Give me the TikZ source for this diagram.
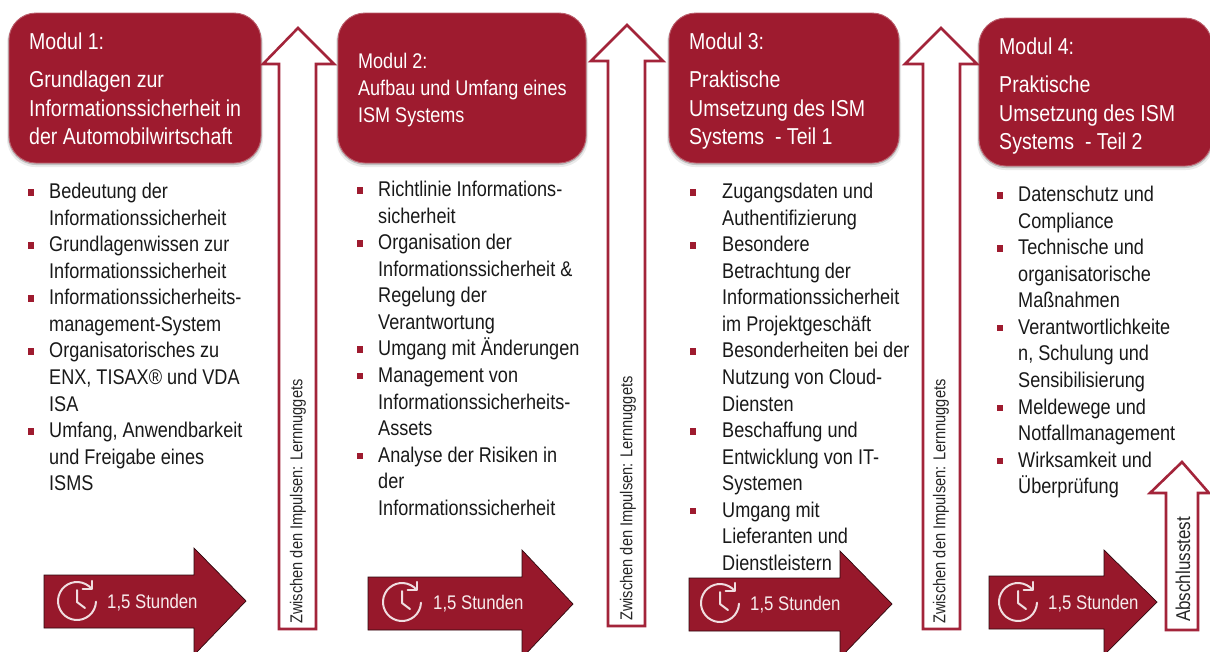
\documentclass[tikz,border=0pt]{standalone}
\usepackage{fontspec}
\setmainfont{Liberation Sans}[FakeStretch=0.85]
\usetikzlibrary{calc}
\definecolor{mred}{HTML}{9E1B2F}
\definecolor{mdark}{HTML}{97182B}
\definecolor{mline}{HTML}{A3243A}
\newcommand{\bulmark}{\textcolor{mred}{\rule[3pt]{6.5pt}{6.5pt}}}
\newcommand{\bul}{\leavevmode\llap{\bulmark\hspace{15pt}}}
\newcommand{\bulw}{\leavevmode\llap{\bulmark\hspace{26pt}}}
\tikzset{
  modbox/.style={fill=mred,draw=mred!70!white,line width=0.9pt,rounded corners=27pt},
  modshadow/.style={fill=black,rounded corners=28pt},
  modtext/.style={anchor=north west,inner sep=0pt,align=left,text=white,font=\fontsize{23}{28.5}\selectfont},
  listtext/.style={anchor=north west,inner sep=0pt,align=left,text=black!90,font=\fontsize{21.3}{26.55}\selectfont},
  uparrow/.style={draw=mline,line width=2.6pt,fill=white,line join=miter},
  rarrow/.style={fill=mdark,draw=black!70!mdark,line width=0.7pt},
  arrowtext/.style={text=white!92!mred,font=\fontsize{19.7}{24}\selectfont,anchor=west,inner sep=0pt},
  sidetext/.style={rotate=90,anchor=west,inner sep=0pt,text=black!85,font=\fontsize{17.2}{20}\selectfont},
  clockicon/.style={draw=white!85!mred,line width=2pt,line cap=round,line join=round},
}
% #1 centre x, #2 centre y
\newcommand{\clockat}[2]{%
  \draw[clockicon] ($(#1,#2)+(-40:19)$) arc[start angle=-40,end angle=-358,radius=19];
  \draw[clockicon] ($(#1,#2)+(-40:19)+(-9,0)$) -- ($(#1,#2)+(-40:19)$) -- ($(#1,#2)+(-40:19)+(0,-8)$);
  \draw[clockicon] ($(#1,#2)+(0,-11)$) -- ($(#1,#2)+(0,1)$) -- ($(#1,#2)+(8,7)$);
}
% #1 left x, #2 head base x, #3 tip x, #4 shaft top, #5 shaft bottom, #6 head top, #7 head bottom, #8 tip y
\newcommand{\timearrow}[8]{%
  \draw[rarrow] (#1,#4) -- (#2,#4) -- (#2,#6) -- (#3,#8) -- (#2,#7) -- (#2,#5) -- (#1,#5) -- cycle;
}
% #1 left head, #2 left shaft, #3 tip x, #4 right shaft, #5 right head, #6 tip y, #7 head base y, #8 bottom
\newcommand{\hollowup}[8]{%
  \draw[uparrow] (#3,#6) -- (#5,#7) -- (#4,#7) -- (#4,#8) -- (#2,#8) -- (#2,#7) -- (#1,#7) -- cycle;
}
\begin{document}
\begin{tikzpicture}[x=1pt,y=-1pt]
\useasboundingbox[fill=white] (0,0) rectangle (1210,651);

% module boxes
\foreach \xa/\ya/\xb/\yb in {9/13/261/163,338/13/586/163,669/13/899/163,979/18/1212/166}{
  \fill[modshadow,opacity=0.08] (\xa-2,\ya+2) rectangle (\xb+2,\yb+4);
  \fill[modshadow,opacity=0.18] (\xa-1,\ya+1) rectangle (\xb+1,\yb+2);
}
\draw[modbox] (9,13) rectangle (261,163);
\draw[modbox] (338,13) rectangle (586,163);
\draw[modbox] (669,13) rectangle (899,163);
\draw[modbox] (979,18) rectangle (1212,166);

\node[modtext] (m1a) at (29,33) {Modul 1:};
\node[modtext] (m1b) at (29,71) {Grundlagen zur\\Informationssicherheit in\\der Automobilwirtschaft};
\node[modtext,font=\fontsize{21.2}{27}\selectfont] (m2) at (358,53) {Modul 2:\\Aufbau und Umfang eines\\ISM Systems};
\node[modtext] (m3a) at (689,33) {Modul 3:};
\node[modtext] (m3b) at (689,71) {Praktische\\Umsetzung des ISM\\Systems\ \ - Teil 1};
\node[modtext] (m4a) at (999,38) {Modul 4:};
\node[modtext] (m4b) at (999,76) {Praktische\\Umsetzung des ISM\\Systems\ \ - Teil 2};

% lists
\node[listtext] (l1) at (49,183) {\bul Bedeutung der\\Informationssicherheit\\\bul Grundlagenwissen zur\\Informationssicherheit\\\bul Informationssicherheits-\\management-System\\\bul Organisatorisches zu\\ENX, TISAX® und VDA\\ISA\\\bul Umfang, Anwendbarkeit\\und Freigabe eines\\ISMS};
\node[listtext] (l2) at (378,181) {\bul Richtlinie Informations-\\sicherheit\\\bul Organisation der\\Informationssicherheit \&\\Regelung der\\Verantwortung\\\bul Umgang mit Änderungen\\\bul Management von\\Informationssicherheits-\\Assets\\\bul Analyse der Risiken in\\der\\Informationssicherheit};
\node[listtext] (l3) at (722,183) {\bulw Zugangsdaten und\\Authentifizierung\\\bulw Besondere\\Betrachtung der\\Informationssicherheit\\im Projektgeschäft\\\bulw Besonderheiten bei der\\Nutzung von Cloud-\\Diensten\\\bulw Beschaffung und\\Entwicklung von IT-\\Systemen\\\bulw Umgang mit\\Lieferanten und\\Dienstleistern};
\node[listtext] (l4) at (1018,186) {\bul Datenschutz und\\Compliance\\\bul Technische und\\organisatorische\\Maßnahmen\\\bul Verantwortlichkeite\\n, Schulung und\\Sensibilisierung\\\bul Meldewege und\\Notfallmanagement\\\bul Wirksamkeit und\\Überprüfung};

% hollow up arrows
\hollowup{263}{279}{298}{316}{334}{28}{64}{629}
\hollowup{591}{608}{627}{645}{663}{25}{61}{626}
\hollowup{905}{923}{941}{960}{977}{28}{64}{629}
\hollowup{1150}{1166}{1182}{1198}{1209}{462}{493}{630}
\node[sidetext] (s1) at (298,624) {Zwischen den Impulsen: Lernnuggets};
\node[sidetext] (s2) at (628,621) {Zwischen den Impulsen: Lernnuggets};
\node[sidetext] (s3) at (941,624) {Zwischen den Impulsen: Lernnuggets};
\node[sidetext,font=\fontsize{20}{22}\selectfont] (s4) at (1183,622) {Abschlusstest};

% time arrows
\timearrow{44}{194}{246}{575}{628}{548}{655}{601}
\timearrow{368}{522}{573}{577}{630}{550}{658}{604}
\timearrow{689}{840}{892}{578}{631}{551}{658}{604}
\timearrow{989}{1104}{1157}{576}{629}{550}{655}{602}
\clockat{77}{601}
\clockat{402}{602}
\clockat{720}{603}
\clockat{1018}{602}
\node[arrowtext] (t1) at (107,603) {1,5 Stunden};
\node[arrowtext] (t2) at (433,604) {1,5 Stunden};
\node[arrowtext] (t3) at (750,605) {1,5 Stunden};
\node[arrowtext] (t4) at (1048,604) {1,5 Stunden};
\end{tikzpicture}
\end{document}
